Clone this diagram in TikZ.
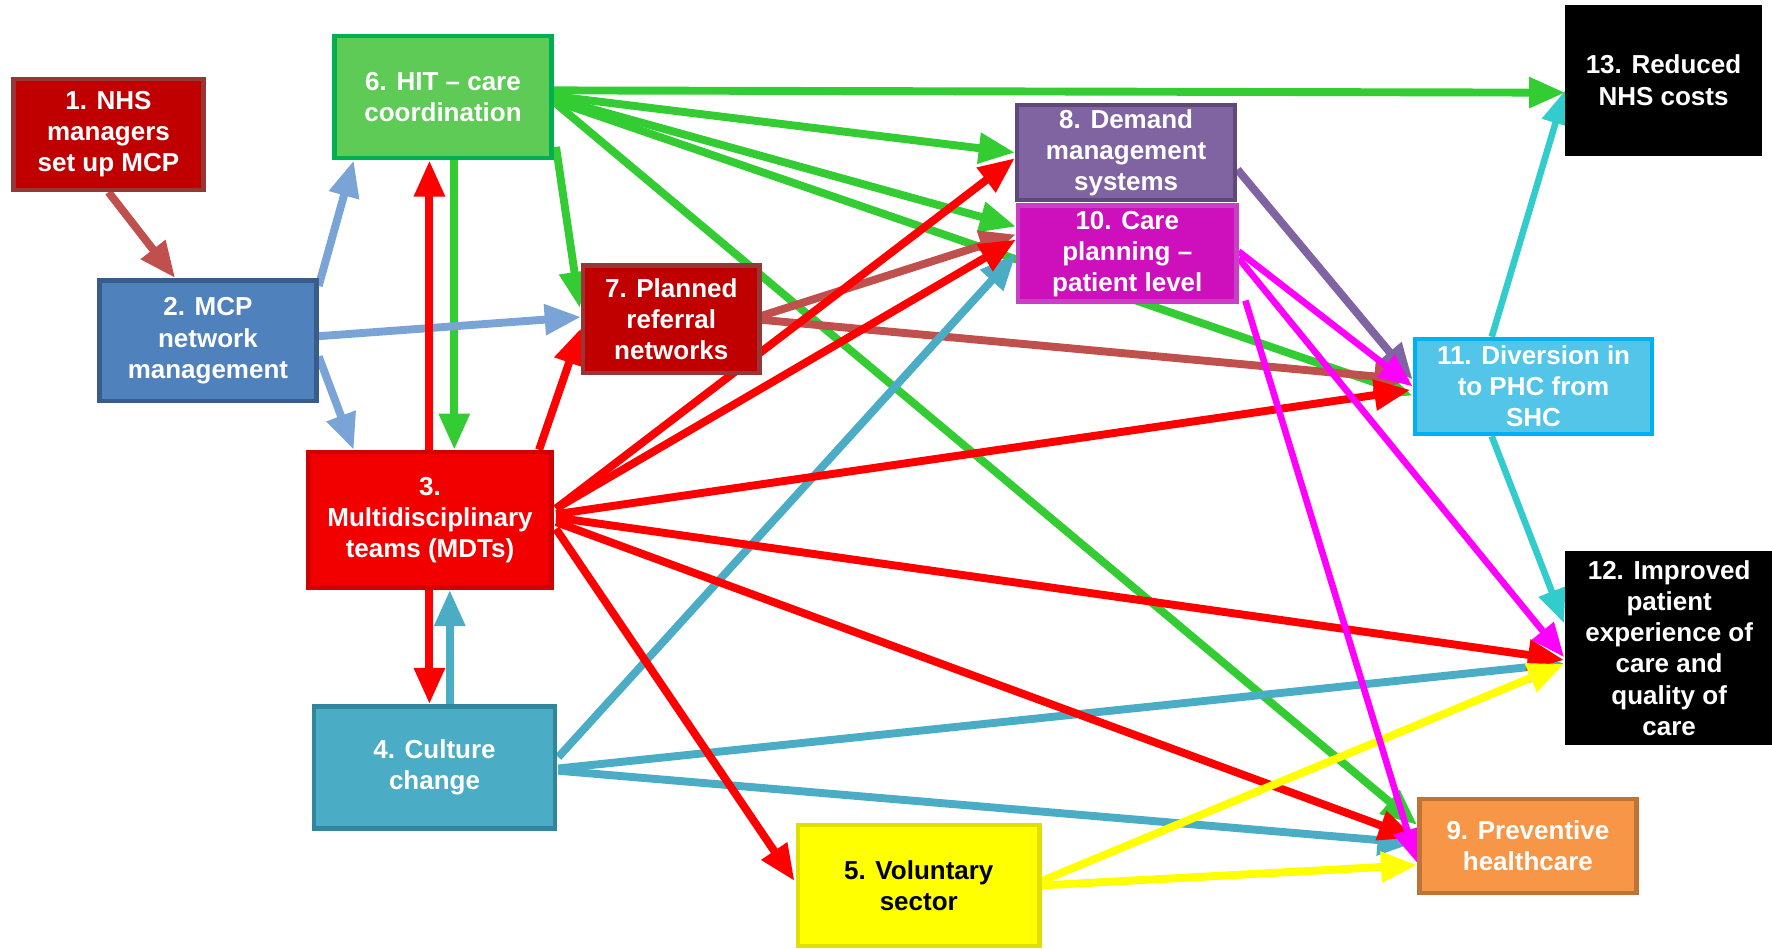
\documentclass[tikz,border=0pt]{standalone}
\usepackage{fontspec}
\setmainfont{Liberation Sans}
\usetikzlibrary{arrows.meta,calc}
\pgfdeclarelayer{edges}
\pgfsetlayers{edges,main}
\definecolor{cAf}{HTML}{C00000}\definecolor{cAd}{HTML}{953735}
\definecolor{cBf}{HTML}{4F81BD}\definecolor{cBd}{HTML}{385D8A}
\definecolor{cCf}{HTML}{5DCB55}\definecolor{cCd}{HTML}{00B050}
\definecolor{cDf}{HTML}{F20000}\definecolor{cDd}{HTML}{D00000}
\definecolor{cEf}{HTML}{4BACC6}\definecolor{cEd}{HTML}{31859C}
\definecolor{cFf}{HTML}{FFFF00}\definecolor{cFd}{HTML}{E0E000}
\definecolor{cGf}{HTML}{8064A2}\definecolor{cGd}{HTML}{5F497A}
\definecolor{cHf}{HTML}{CD10BB}\definecolor{cHd}{HTML}{C840C8}
\definecolor{cIf}{HTML}{52C5E9}\definecolor{cId}{HTML}{00B0F0}
\definecolor{cJf}{HTML}{F79646}\definecolor{cJd}{HTML}{BF7436}
\definecolor{eBrown}{HTML}{C0504D}
\definecolor{eLblue}{HTML}{7BA4D6}
\definecolor{eRed}{HTML}{FF0000}
\definecolor{eGreen}{HTML}{33CC33}
\definecolor{eTeal}{HTML}{4BACC6}
\definecolor{eYellow}{HTML}{FFFF00}
\definecolor{ePurple}{HTML}{8064A2}
\definecolor{eMag}{HTML}{FF00FF}
\definecolor{eCyan}{HTML}{33CCCC}
\tikzset{
  box/.style={rectangle, line width=2pt, inner sep=0pt, align=center, text=white,
    font=\fontsize{11.5}{13.75}\selectfont\bfseries},
  conn/.style={line width=3.5pt, -{Triangle[length=16pt,width=13pt]}},
  thinconn/.style={line width=2.9pt, -{Triangle[length=15pt,width=12pt]}}
}
\begin{document}
\begin{tikzpicture}[x=0.5pt,y=-0.5pt]
\useasboundingbox (0,0) rectangle (1568,839);
\node[box, fill=cAf, draw=cAd, minimum width=84pt, minimum height=49pt] (n1) at (96,119) {1. NHS\\managers\\set up MCP};
\node[box, fill=cBf, draw=cBd, minimum width=96pt, minimum height=53.5pt] (n2) at (184,301.5) {2. MCP\\network\\management};
\node[box, fill=cCf, draw=cCd, minimum width=96pt, minimum height=54pt] (n6) at (392,86) {6. HIT -- care\\coordination};
\node[box, fill=cAf, draw=cAd, minimum width=78pt, minimum height=47.5pt] (n7) at (594,282.5) {7. Planned\\referral\\networks};
\node[box, fill=cDf, draw=cDd, minimum width=107.5pt, minimum height=60pt] (n3) at (380.5,460) {3.\\Multidisciplinary\\teams (MDTs)};
\node[box, fill=cEf, draw=cEd, minimum width=106.5pt, minimum height=54pt] (n4) at (384.5,679) {4. Culture\\change};
\node[box, fill=cFf, draw=cFd, text=black, minimum width=107pt, minimum height=53.5pt] (n5) at (813,783.5) {5. Voluntary\\sector};
\node[box, fill=cGf, draw=cGd, minimum width=96.5pt, minimum height=42pt] (n8) at (996.5,135) {8. Demand\\management\\systems};
\node[box, fill=cHf, draw=cHd, minimum width=96.5pt, minimum height=42.5pt] (n10) at (997.5,224.5) {10. Care\\planning --\\patient level};
\node[box, fill=cIf, draw=cId, minimum width=105pt, minimum height=42pt] (n11) at (1357,342) {11. Diversion in\\to PHC from\\SHC};
\node[box, fill=black, draw=black, minimum width=85pt, minimum height=65pt] (n13) at (1472,71) {13. Reduced\\NHS costs};
\node[box, fill=black, draw=black, minimum width=90pt, minimum height=83.5pt] (n12) at (1477,573.5) {12. Improved\\patient\\experience of\\care and\\quality of\\care};
\node[box, fill=cJf, draw=cJd, minimum width=96pt, minimum height=41.5pt] (n9) at (1352,748.5) {9. Preventive\\healthcare};
\begin{pgfonlayer}{edges}
% from 6 (green)
\draw[conn, eGreen] ($(n6.east)+(0,-6)$) -- ($(n13.west)+(0,11)$);
\draw[conn, eGreen] ($(n6.east)+(0,-1)$) -- (n8.west);
\draw[conn, eGreen] ($(n6.east)+(0,3)$) -- ($(n11.west)+(0,8)$);
\draw[conn, eGreen] ($(n6.east)+(0,1)$) -- ($(n10.west)+(0,-24)$);
\draw[conn, eGreen] ($(n6.east)+(0,4)$) -- ($(n9.west)+(0,-18.5)$);
\draw[conn, eGreen] ($(n6.south east)+(2,-12)$) -- ($(n7.west)+(-1,-10)$);
\draw[conn, eGreen] ($(n6.south)+(10,0)$) -- ($(n3.north)+(21.5,0)$);
% from 2 (light blue)
\draw[conn, eLblue] ($(n2.north east)+(0,7)$) -- ($(n6.south west)+(19,0)$);
\draw[conn, eLblue] ($(n2.east)+(0,-4)$) -- ($(n7.west)+(0,-2)$);
\draw[conn, eLblue] ($(n2.east)+(0,14)$) -- ($(n3.north west)+(42,0)$);
% from 1
\draw[conn, eBrown] (n1.south) -- ($(n2.north)+(-29,0)$);
% from 7 (brown)
\draw[conn, eBrown] ($(n7.east)+(0,0.5)$) -- ($(n11.west)+(-2,-6)$);
\draw[conn, eBrown] ($(n7.east)+(0,-3)$) -- ($(n10.west)+(0,-17)$);
% from 4 (teal)
\draw[conn, eTeal] ($(n4.east)+(1,-9)$) -- (n10.west);
\draw[conn, eTeal] ($(n4.east)+(1,1)$) -- ($(n12.west)+(-1,13.5)$);
\draw[conn, eTeal] ($(n4.east)+(1,3)$) -- ($(n9.west)+(-3,-2.5)$);
\draw[conn, eTeal] ($(n4.north)+(13.5,0)$) -- ($(n3.south)+(17.5,0)$);
% from 3 (red)
\draw[conn, eRed] ($(n3.north)+(-0.5,0)$) -- ($(n6.south)+(-12,0)$);
\draw[conn, eRed] ($(n3.south)+(-0.5,0)$) -- ($(n4.north)+(-4.5,0)$);
\draw[conn, eRed] ($(n3.north east)+(-13,0)$) -- ($(n7.west)+(0,8)$);
\draw[conn, eRed] ($(n3.east)+(2,-10)$) -- ($(n8.west)+(0,5)$);
\draw[conn, eRed] ($(n3.east)+(2,-10)$) -- ($(n10.west)+(0,-12.5)$);
\draw[conn, eRed] ($(n3.east)+(2,-5)$) -- ($(n11.west)+(-2,3)$);
\draw[conn, eRed] ($(n3.east)+(2,-2)$) -- ($(n12.west)+(-1,10.5)$);
\draw[conn, eRed] ($(n3.east)+(2,2)$) -- ($(n9.west)+(-2,-7)$);
\draw[conn, eRed] ($(n3.east)+(2,8)$) -- ($(n5.west)+(-1,-4)$);
% from 5 (yellow)
\draw[conn, eYellow] ($(n5.east)+(0,-4)$) -- ($(n12.west)+(-1,14)$);
\draw[conn, eYellow] (n5.east) -- ($(n9.west)+(0,17)$);
% from 8
\draw[conn, ePurple] ($(n8.east)+(0,15)$) -- ($(n11.west)+(0,-6)$);
% from 10 (magenta)
\draw[thinconn, eMag] ($(n10.east)+(0,-2)$) -- (n11.west);
\draw[thinconn, eMag] ($(n10.east)+(0,4)$) -- ($(n12.west)+(-1,8)$);
\draw[thinconn, eMag] ($(n10.south east)+(6,-3)$) -- ($(n9.west)+(0,15)$);
% from 11 (cyan)
\draw[thinconn, eCyan] ($(n11.north west)+(70,0)$) -- ($(n13.west)+(0,9)$);
\draw[thinconn, eCyan] ($(n11.south west)+(70,0)$) -- ($(n12.west)+(-1,-22)$);
\end{pgfonlayer}
\end{tikzpicture}
\end{document}
